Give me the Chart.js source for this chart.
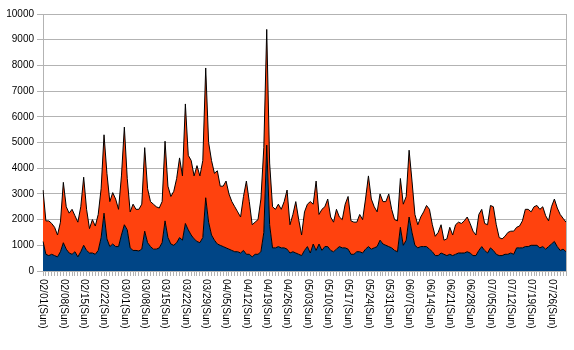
<!DOCTYPE html>
<html>
<head>
<meta charset="utf-8">
<script src="https://cdn.jsdelivr.net/npm/chart.js@4/dist/chart.umd.min.js"></script>
<style>
html,body{margin:0;padding:0;background:#fff}
#wrap{width:574px;height:350px;position:relative}
</style>
</head>
<body>
<div id="wrap"><canvas id="c"></canvas></div>
<script>
// daily values, 2009-02-01 .. 2009-07-31
const startYear = 2009

const tickLabels = ['02/01(Sun)','02/08(Sun)','02/15(Sun)','02/22(Sun)','03/01(Sun)','03/08(Sun)','03/15(Sun)',
  '03/22(Sun)','03/29(Sun)','04/05(Sun)','04/12(Sun)','04/19(Sun)','04/26(Sun)','05/03(Sun)','05/10(Sun)',
  '05/17(Sun)','05/24(Sun)','05/31(Sun)','06/07(Sun)','06/14(Sun)','06/21(Sun)','06/28(Sun)','07/05(Sun)',
  '07/12(Sun)','07/19(Sun)','07/26(Sun)']

const yTicks = [0,1000,2000,3000,4000,5000,6000,7000,8000,9000,10000]

// bottom series (blue)
const seriesA = [
  1150,650,600,650,600,550,750, 1100,850,700,650,750,550,750, 1000,800,700,700,650,800,1300,
  2250,1250,950,1050,950,950,1400, 1800,1600,900,800,800,780,850, 1550,1100,950,850,850,900,1100,
  1950,1300,1050,1000,1100,1300,1200, 1850,1600,1400,1250,1150,1100,1300, 2850,1900,1400,1200,1050,1000,950,
  900,850,800,750,750,700,800, 650,650,550,650,650,750,1500, 4900,1800,900,900,950,900,900,
  850,700,750,700,650,600,800, 950,700,1050,800,1050,800,950, 950,800,750,850,950,900,900,
  850,650,650,750,750,700,850, 950,850,900,950,1200,1050,1000, 950,900,800,750,1700,1000,1200,
  2100,1500,1000,900,950,950,950, 850,750,600,600,700,650,600, 650,600,650,700,700,700,750,
  700,600,600,800,950,800,700, 900,800,650,600,600,650,650, 700,650,900,900,900,950,950,
  1000,1000,1000,900,950,850,950, 1050,1150,950,800,850,750
]

// stacked on top (orange)
const seriesB = [
  2000,1300,1350,1200,1100,850,1150, 2350,1650,1550,1750,1400,1350,1750, 2650,1600,950,1300,1100,1400,1900,
  3050,2550,1750,2000,1850,1450,2300, 3800,2000,1400,1800,1600,1620,1750, 3250,2100,1750,1750,1650,1550,1600,
  3100,2000,1850,2100,2500,3100,2500, 4650,2900,2900,2450,2950,2600,3000, 5050,3100,2900,2600,2850,2300,2350,
  2600,2150,1900,1750,1550,1400,2100, 2850,2050,1250,1250,1350,2050,3300, 4500,2400,1600,1500,1650,1500,1800,
  2300,1100,1450,2000,1350,800,1500, 1650,2000,1550,2700,1150,1600,1550, 1850,1300,1150,1550,1150,1100,1700,
  2050,1300,1250,1150,1450,1300,1950, 2750,1950,1600,1350,1800,1650,1700, 2050,1500,1200,1200,1900,1600,1700,
  2600,2000,1200,900,1150,1350,1600, 1550,1050,750,900,1100,550,650, 1050,800,1150,1200,1150,1250,1350,
  1150,950,800,1400,1450,1050,1100, 1650,1700,1150,700,650,700,850, 850,900,800,850,1050,1450,1450,
  1300,1500,1550,1500,1550,1300,1000, 1450,1650,1500,1400,1200,1150
]

const days = seriesA.map((_, i) => {
  const d = new Date(Date.UTC(startYear, 1, 1 + i))
  return String(d.getUTCMonth()+1).padStart(2,'0') + '/' + String(d.getUTCDate()).padStart(2,'0')
})

const FONT = '"Liberation Sans", Arial, sans-serif'
const GRID = '#b3b3b3'

// x labels read top-to-bottom, one per Sunday
const sundayLabels = {
  id: 'sundayLabels',
  afterDraw(chart){
    const {ctx, chartArea:a, scales:{x}} = chart
    ctx.save()
    ctx.strokeStyle = GRID
    ctx.lineWidth = 1
    ctx.beginPath()
    ctx.moveTo(Math.round(a.right)+0.5, a.top)
    ctx.lineTo(Math.round(a.right)+0.5, a.bottom)
    ctx.stroke()
    ctx.fillStyle = '#000'
    ctx.font = '10px ' + FONT
    ctx.textBaseline = 'middle'
    ctx.textAlign = 'left'
    tickLabels.forEach((t, k) => {
      const px = x.getPixelForValue(k*7)
      ctx.save()
      ctx.translate(px, a.bottom + 8)
      ctx.rotate(Math.PI/2)
      ctx.fillText(t, 0, 0)
      ctx.restore()
    })
    ctx.restore()
  }
}

new Chart(document.getElementById('c'), {
  type: 'line',
  data: {
    labels: days,
    datasets: [
      {data: seriesA, backgroundColor:'#004586', borderColor:'#000', borderWidth:1, fill:'origin', pointRadius:0, tension:0},
      {data: seriesB, backgroundColor:'#ff420e', borderColor:'#000', borderWidth:1, fill:'-1', pointRadius:0, tension:0}
    ]
  },
  options: {
    responsive: true,
    maintainAspectRatio: false,
    animation: false,
    layout: {padding: {top: 14, right: 8, left: 0, bottom: 0}},
    plugins: {legend: {display:false}, tooltip: {enabled:false}},
    scales: {
      x: {
        type: 'category',
        offset: false,
        grid: {drawOnChartArea:false, color:GRID, tickLength:5},
        border: {color:GRID},
        ticks: {display:false},
        afterFit(s){ s.height = 79 }
      },
      y: {
        stacked: true,
        min: 0, max: 10000,
        afterBuildTicks(s){ s.ticks = yTicks.map(v => ({value:v})) },
        grid: {color:GRID, tickLength:6},
        border: {color:GRID},
        ticks: {color:'#000', font:{family:FONT, size:10}, padding:3, callback: v => String(v)},
        afterFit(s){ s.width = 43 }
      }
    }
  },
  plugins: [sundayLabels]
})
</script>
</body>
</html>
